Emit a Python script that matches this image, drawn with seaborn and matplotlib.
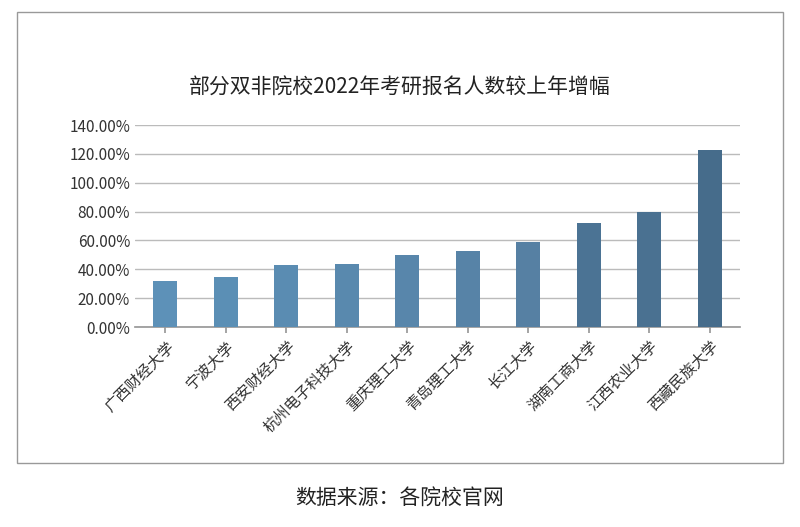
import matplotlib
matplotlib.use("Agg")
import matplotlib.pyplot as plt
import seaborn as sns
import pandas as pd
from matplotlib.patches import Rectangle

schools = ["广西财经大学", "宁波大学", "西安财经大学", "杭州电子科技大学", "重庆理工大学",
           "青岛理工大学", "长江大学", "湖南工商大学", "江西农业大学", "西藏民族大学"]
growth = [32.0, 34.5, 43.0, 43.5, 50.0, 53.0, 59.0, 72.0, 80.0, 122.5]
colors = ["#5d91b8", "#5b8fb5", "#5a8cb2", "#5989ae", "#5886ab", "#5783a7",
          "#5680a3", "#4b7394", "#4a7191", "#466c8b"]

sns.set_theme(style="white")
plt.rcParams['font.family'] = ['Noto Sans CJK SC', 'DejaVu Sans']

fig = plt.figure(figsize=(8, 5.27), dpi=100)
fig.patches.append(Rectangle((17/800, 1-463/527), 766/800, 451/527, transform=fig.transFigure,
                             fill=False, edgecolor="#999999", lw=1))
ax = fig.add_axes([135/800, 1-327/527, 605/800, 202/527])
df = pd.DataFrame({"school": schools, "growth": growth})
sns.barplot(data=df, x="school", y="growth", hue="school", palette=colors, legend=False,
            ax=ax, width=0.4, zorder=3, saturation=1, linewidth=0)
ax.set_ylim(0, 140)
ax.set_yticks(range(0, 141, 20))
ax.set_yticklabels([f"{v:.2f}%" for v in range(0, 141, 20)], fontsize=11, color="#333333")
ax.set_xticks(range(len(schools)))
ax.set_xticklabels(schools, rotation=45, ha="right", rotation_mode="anchor", fontsize=11, color="#333333")
ax.grid(axis="y", color="#bbbbbb", lw=1, zorder=0)
for s in ["top", "right", "left"]:
    ax.spines[s].set_visible(False)
ax.spines["bottom"].set_color("#999999")
ax.tick_params(axis="x", length=4, color="#999999", bottom=True)
ax.tick_params(axis="y", length=0)
ax.set_xlabel("")
ax.set_ylabel("")
fig.text(0.5, 1-88/527, "部分双非院校2022年考研报名人数较上年增幅", ha="center", va="center",
         fontsize=15, color="#222222")
fig.text(0.5, 1-498/527, "数据来源：各院校官网", ha="center", va="center", fontsize=15, color="#222222")
fig.savefig("out.png", dpi=100)
